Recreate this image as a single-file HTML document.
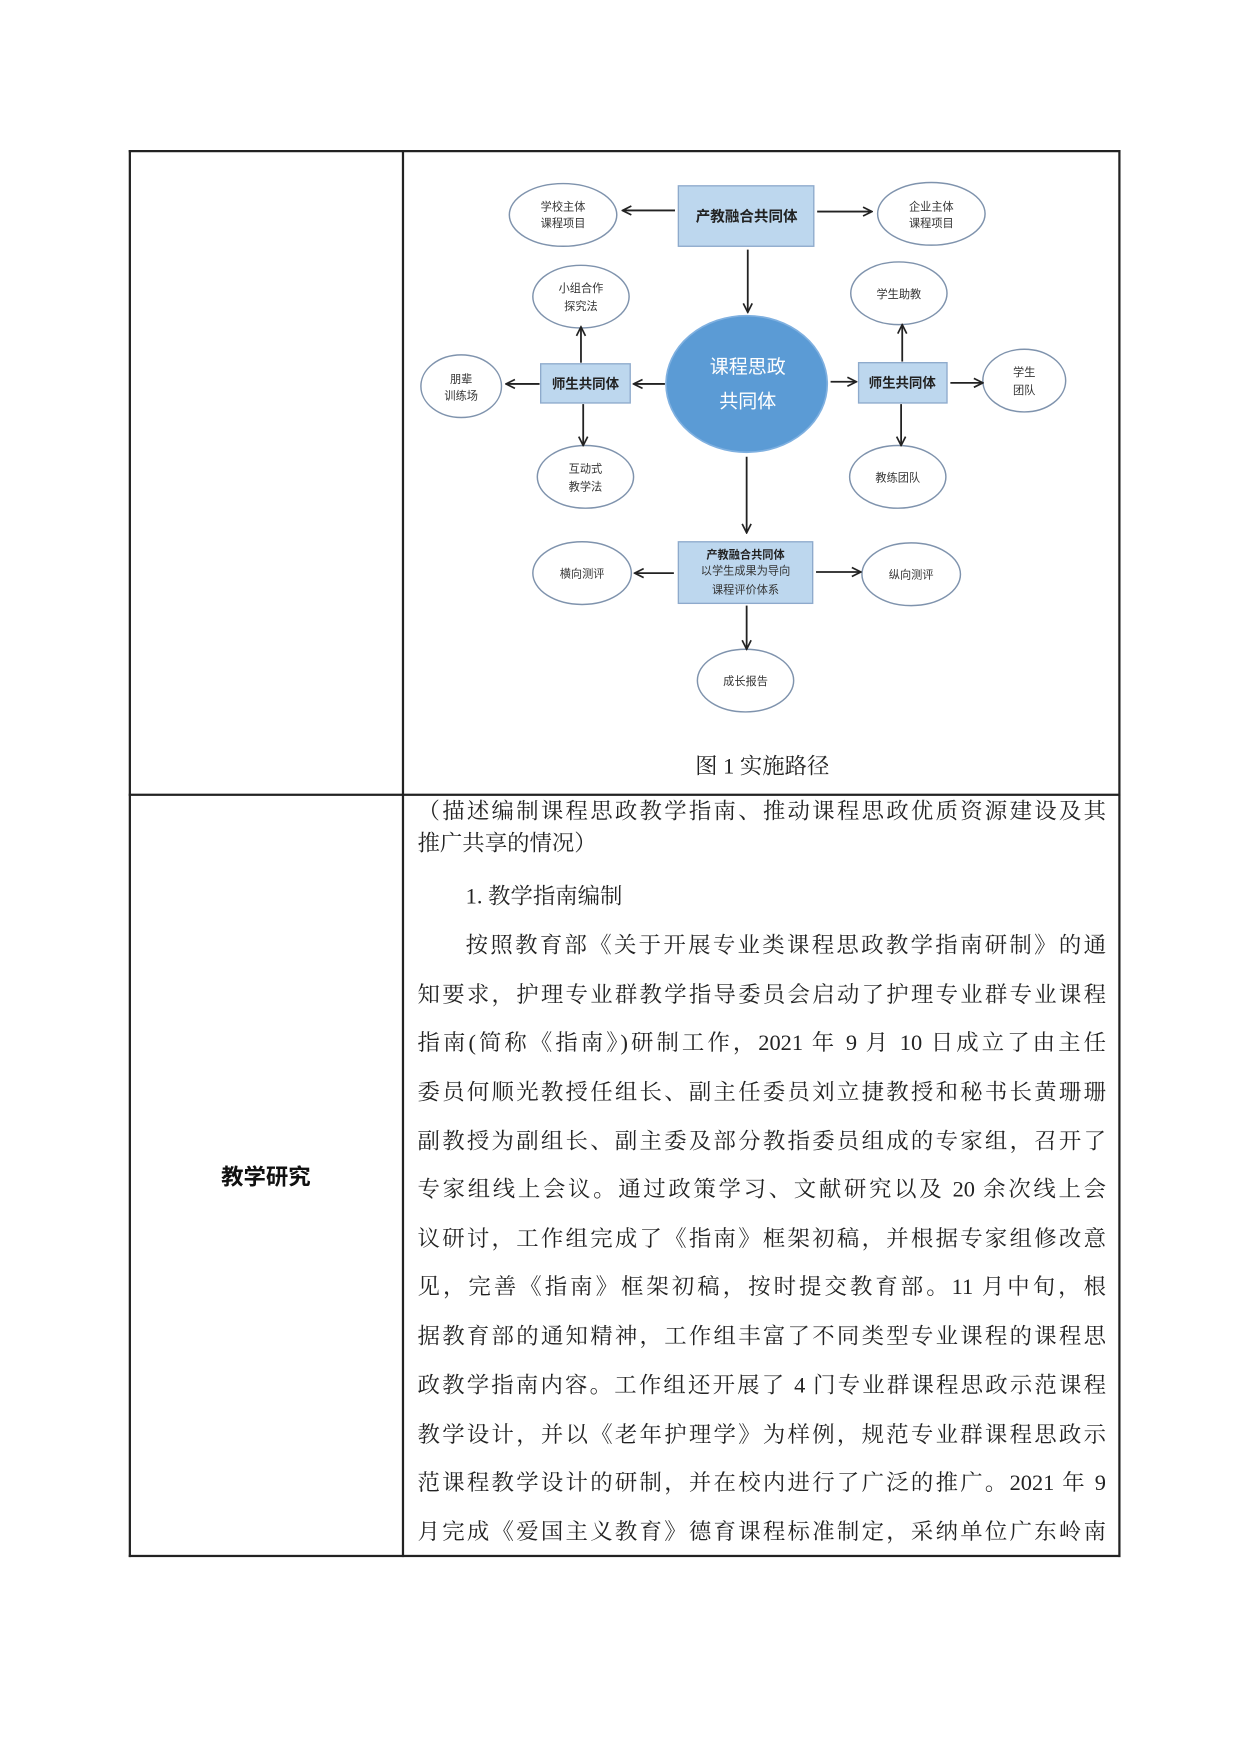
<!DOCTYPE html>
<html><head><meta charset="utf-8">
<style>
html,body{margin:0;padding:0;background:#fff;}
body{width:1240px;height:1753px;overflow:hidden;position:relative;}
#w{position:absolute;left:0;top:0;width:1103px;height:1560px;transform:scale(1.1194);transform-origin:0 0;}
.ln{position:absolute;background:#222;}
.t{position:absolute;left:373px;width:615px;font-family:"Liberation Serif","Noto Serif CJK SC",serif;font-size:20px;color:#222;text-align:justify;text-align-last:justify;white-space:nowrap;line-height:24px;height:24px;}
.ind{left:416px;width:572px;}
.noj{text-align-last:left;}
svg text{font-family:"Liberation Sans","Noto Sans CJK SC",sans-serif;}
</style></head><body><div id="w">
<div class="ln" style="left:115px;top:134px;width:886px;height:1.5px"></div>
<div class="ln" style="left:115px;top:709px;width:886px;height:1.5px"></div>
<div class="ln" style="left:115px;top:1389px;width:886px;height:1.5px"></div>
<div class="ln" style="left:115px;top:134px;width:1.5px;height:1257px"></div>
<div class="ln" style="left:359px;top:134px;width:1.5px;height:1257px"></div>
<div class="ln" style="left:999px;top:134px;width:1.5px;height:1257px"></div>

<svg style="position:absolute;left:0;top:0" width="1103" height="710" viewBox="0 0 1103 710">
<defs><marker id="a" markerWidth="10" markerHeight="10" refX="9" refY="5" orient="auto" markerUnits="userSpaceOnUse"><path d="M1,1 L9,5 L1,9" fill="none" stroke="#222" stroke-width="1.5"/></marker></defs>
<g fill="#fff" stroke="#7f93ad" stroke-width="1.3">
<ellipse cx="503" cy="192" rx="48" ry="28"/>
<ellipse cx="832" cy="191" rx="48" ry="28"/>
<ellipse cx="519" cy="265" rx="43" ry="28"/>
<ellipse cx="412" cy="345" rx="36" ry="28"/>
<ellipse cx="523" cy="426" rx="43" ry="28"/>
<ellipse cx="803" cy="262" rx="43" ry="28"/>
<ellipse cx="915" cy="340" rx="37" ry="28"/>
<ellipse cx="802" cy="426" rx="43" ry="28"/>
<ellipse cx="520" cy="512" rx="44" ry="28"/>
<ellipse cx="814" cy="513" rx="44" ry="28"/>
<ellipse cx="666" cy="608" rx="43" ry="28"/>
</g>
<g fill="#bdd7ee" stroke="#8eaacc" stroke-width="1.2">
<rect x="606" y="166" width="121" height="54"/>
<rect x="483" y="325" width="80" height="35"/>
<rect x="767" y="324" width="79" height="36"/>
<rect x="606" y="484" width="120" height="55"/>
</g>
<ellipse cx="667" cy="343" rx="72" ry="61" fill="#5b9bd5" stroke="#7fb0e0" stroke-width="1.5"/>
<g stroke="#222" stroke-width="1.6" marker-end="url(#a)">
<line x1="603" y1="188" x2="556" y2="188"/>
<line x1="730" y1="189" x2="779" y2="189"/>
<line x1="668" y1="223" x2="668" y2="279"/>
<line x1="519" y1="324" x2="519" y2="292"/>
<line x1="482" y1="343" x2="452" y2="343"/>
<line x1="521" y1="361" x2="521" y2="398"/>
<line x1="594" y1="343" x2="566" y2="343"/>
<line x1="742" y1="341" x2="765" y2="341"/>
<line x1="806" y1="323" x2="806" y2="290"/>
<line x1="849" y1="342" x2="878" y2="342"/>
<line x1="805" y1="361" x2="805" y2="398"/>
<line x1="667" y1="408" x2="667" y2="476"/>
<line x1="602" y1="512" x2="567" y2="512"/>
<line x1="729" y1="511" x2="769" y2="511"/>
<line x1="667" y1="541" x2="667" y2="580"/>
</g>
<g font-size="10" fill="#333" text-anchor="middle">
<text x="503" y="188">学校主体</text><text x="503" y="203">课程项目</text>
<text x="832" y="188">企业主体</text><text x="832" y="203">课程项目</text>
<text x="519" y="261">小组合作</text><text x="519" y="277">探究法</text>
<text x="412" y="342">朋辈</text><text x="412" y="357">训练场</text>
<text x="523" y="422">互动式</text><text x="523" y="438">教学法</text>
<text x="803" y="266">学生助教</text>
<text x="915" y="336">学生</text><text x="915" y="352">团队</text>
<text x="802" y="430">教练团队</text>
<text x="520" y="516">横向测评</text>
<text x="814" y="517">纵向测评</text>
<text x="666" y="612">成长报告</text>
<text x="666" y="513">以学生成果为导向</text>
<text x="666" y="530">课程评价体系</text>
</g>
<g font-weight="bold" fill="#222" text-anchor="middle">
<text x="667" y="198" font-size="13">产教融合共同体</text>
<text x="523" y="347" font-size="12">师生共同体</text>
<text x="806" y="346" font-size="12">师生共同体</text>
<text x="666" y="499" font-size="10">产教融合共同体</text>
</g>
<g fill="#fff" font-size="17" text-anchor="middle">
<text x="668" y="333">课程思政</text><text x="668" y="364">共同体</text>
</g>
<text x="681" y="691" font-size="20" text-anchor="middle" fill="#222" style="font-family:'Liberation Serif','Noto Serif CJK SC',serif">图 1  实施路径</text>
</svg>

<div style="position:absolute;left:115px;top:1040px;width:245px;text-align:center;font-family:'Liberation Sans','Noto Sans CJK SC',sans-serif;font-weight:bold;font-size:20px;color:#111;line-height:24px">教学研究</div>

<div class="t" style="top:713px">（描述编制课程思政教学指南、推动课程思政优质资源建设及其</div>
<div class="t noj" style="top:742px">推广共享的情况）</div>
<div class="t ind noj" style="top:789px">1. 教学指南编制</div>
<div class="t ind" style="top:833px">按照教育部《关于开展专业类课程思政教学指南研制》的通</div>
<div class="t" style="top:877px">知要求，护理专业群教学指导委员会启动了护理专业群专业课程</div>
<div class="t" style="top:920px">指南(简称《指南》)研制工作，2021 年 9 月 10 日成立了由主任</div>
<div class="t" style="top:964px">委员何顺光教授任组长、副主任委员刘立捷教授和秘书长黄珊珊</div>
<div class="t" style="top:1008px">副教授为副组长、副主委及部分教指委员组成的专家组，召开了</div>
<div class="t" style="top:1051px">专家组线上会议。通过政策学习、文献研究以及 20 余次线上会</div>
<div class="t" style="top:1095px">议研讨，工作组完成了《指南》框架初稿，并根据专家组修改意</div>
<div class="t" style="top:1138px">见，完善《指南》框架初稿，按时提交教育部。11 月中旬，根</div>
<div class="t" style="top:1182px">据教育部的通知精神，工作组丰富了不同类型专业课程的课程思</div>
<div class="t" style="top:1226px">政教学指南内容。工作组还开展了 4 门专业群课程思政示范课程</div>
<div class="t" style="top:1270px">教学设计，并以《老年护理学》为样例，规范专业群课程思政示</div>
<div class="t" style="top:1313px">范课程教学设计的研制，并在校内进行了广泛的推广。2021 年 9</div>
<div class="t" style="top:1357px">月完成《爱国主义教育》德育课程标准制定，采纳单位广东岭南</div>
</div></body></html>
